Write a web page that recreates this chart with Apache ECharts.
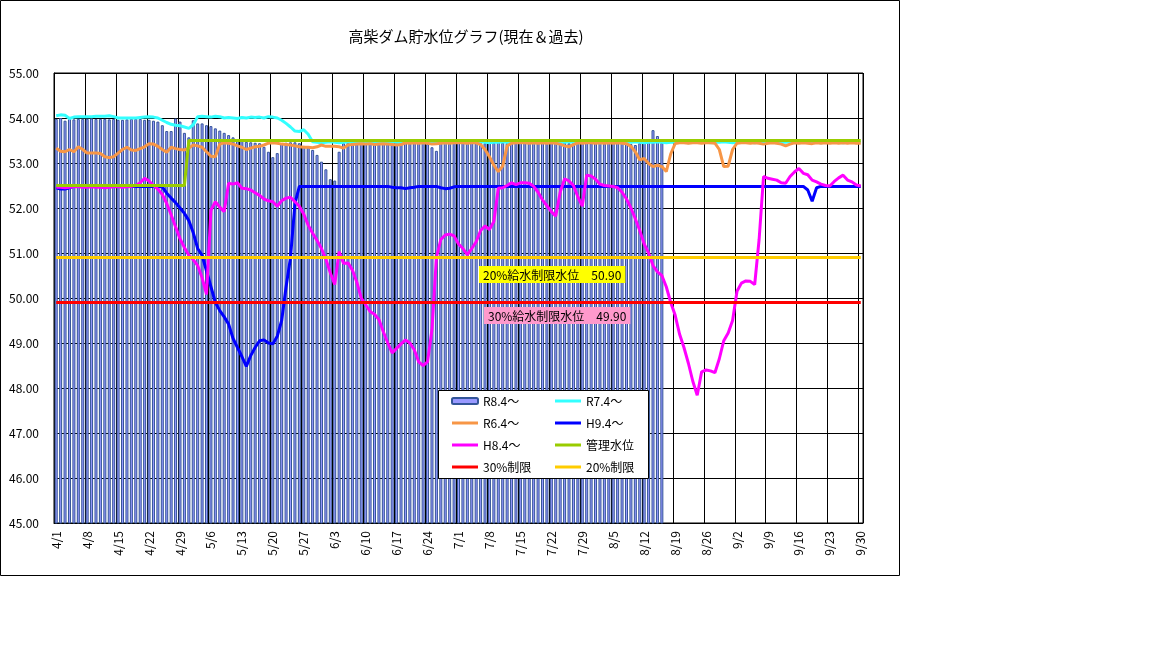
<!DOCTYPE html>
<html>
<head>
<meta charset="utf-8">
<title>高柴ダム貯水位グラフ</title>
<script src="https://cdn.jsdelivr.net/npm/echarts@6/dist/echarts.min.js"></script>
<style>
  html, body { margin: 0; padding: 0; background: #fff; }
  #chart { width: 1152px; height: 648px; }
</style>
</head>
<body>
<div id="chart"></div>
<script>
// 日付 4/1 ～ 9/30
var monthDays = [[4, 30], [5, 31], [6, 30], [7, 31], [8, 31], [9, 30]];
var days = [];
monthDays.forEach(function (m) {
  for (var d = 1; d <= m[1]; d++) days.push(m[0] + '/' + d);
});

// R8.4～ (棒グラフ, 8/16 まで)
var r8 = [
  53.98, 54.00, 53.94, 53.98, 53.97, 53.98, 53.98,
  53.98, 53.99, 53.98, 53.98, 53.98, 53.97, 53.98,
  53.96, 53.96, 53.97, 53.98, 53.98, 53.98, 53.96,
  53.96, 53.94, 53.92, 53.84, 53.71, 53.71, 53.99,
  53.92, 53.67, 53.57, 53.95, 53.88, 53.88, 53.84,
  53.82, 53.77, 53.72, 53.67, 53.62, 53.57, 53.52,
  53.49, 53.47, 53.46, 53.45, 53.44, 53.36, 53.25,
  53.13, 53.22, 53.43, 53.45, 53.46, 53.46, 53.44,
  53.38, 53.36, 53.29, 53.18, 53.03, 52.86, 52.64,
  52.61, 53.25, 53.44, 53.45, 53.46, 53.45, 53.44,
  53.46, 53.45, 53.45, 53.44, 53.46, 53.45, 53.44,
  53.45, 53.46, 53.45, 53.44, 53.45, 53.45, 53.44,
  53.42, 53.35, 53.27, 53.45, 53.45, 53.44, 53.46,
  53.45, 53.45, 53.44, 53.45, 53.46, 53.45, 53.44,
  53.45, 53.45, 53.46, 53.45, 53.44, 53.45, 53.45,
  53.46, 53.45, 53.44, 53.45, 53.46, 53.45, 53.45,
  53.44, 53.45, 53.46, 53.45, 53.44, 53.45, 53.45,
  53.46, 53.45, 53.44, 53.45, 53.45, 53.44, 53.45,
  53.46, 53.45, 53.44, 53.45, 53.42, 53.40, 53.44,
  53.45, 53.46, 53.73, 53.60, 53.45
];

// R7.4～
var r7 = [
  54.05, 54.07, 54.06, 53.99, 54.02, 54.03, 54.03,
  54.03, 54.03, 54.04, 54.04, 54.04, 54.05, 54.03,
  54.00, 54.00, 54.00, 54.00, 54.00, 54.01, 54.02,
  54.03, 54.02, 54.00, 53.95, 53.90, 53.86, 53.84,
  53.83, 53.80, 53.77, 53.85, 54.03, 54.04, 54.03,
  54.02, 54.04, 54.03, 54.00, 54.01, 54.00, 53.99,
  54.01, 54.00, 54.02, 54.01, 54.02, 54.00, 54.03,
  54.02, 54.00, 53.95, 53.88, 53.80, 53.71, 53.70,
  53.74, 53.64, 53.47, 53.46, 53.45, 53.46, 53.47,
  53.46, 53.45, 53.46, 53.47, 53.46, 53.45, 53.46,
  53.46, 53.47, 53.46, 53.45, 53.46, 53.46, 53.47,
  53.46, 53.45, 53.46, 53.46, 53.47, 53.46, 53.45,
  53.46, 53.46, 53.47, 53.46, 53.45, 53.46, 53.46,
  53.47, 53.46, 53.45, 53.46, 53.46, 53.47, 53.46,
  53.45, 53.46, 53.46, 53.47, 53.46, 53.45, 53.46,
  53.46, 53.47, 53.46, 53.45, 53.46, 53.46, 53.47,
  53.46, 53.45, 53.46, 53.46, 53.47, 53.46, 53.45,
  53.46, 53.46, 53.47, 53.46, 53.45, 53.46, 53.46,
  53.47, 53.46, 53.45, 53.46, 53.46, 53.47, 53.46,
  53.45, 53.46, 53.46, 53.47, 53.46, 53.45, 53.46,
  53.46, 53.47, 53.46, 53.45, 53.46, 53.46, 53.47,
  53.46, 53.45, 53.46, 53.46, 53.47, 53.46, 53.45,
  53.46, 53.46, 53.47, 53.46, 53.45, 53.46, 53.46,
  53.47, 53.46, 53.45, 53.46, 53.46, 53.47, 53.46,
  53.45, 53.46, 53.46, 53.47, 53.46, 53.45, 53.46,
  53.46, 53.47, 53.46, 53.45, 53.46, 53.46, 53.47,
  53.46
];

// R6.4～
var r6 = [
  53.33, 53.26, 53.25, 53.30, 53.25, 53.36, 53.30,
  53.22, 53.22, 53.22, 53.21, 53.14, 53.12, 53.14,
  53.22, 53.30, 53.35, 53.29, 53.28, 53.32, 53.36,
  53.43, 53.42, 53.37, 53.30, 53.24, 53.35, 53.32,
  53.30, 53.29, 53.33, 53.40, 53.38, 53.35, 53.25,
  53.15, 53.14, 53.42, 53.45, 53.44, 53.42, 53.38,
  53.35, 53.30, 53.33, 53.36, 53.37, 53.40, 53.44,
  53.45, 53.44, 53.42, 53.41, 53.40, 53.38, 53.36,
  53.35, 53.35, 53.34, 53.36, 53.40, 53.37, 53.37,
  53.37, 53.36, 53.33, 53.40, 53.41, 53.42, 53.43,
  53.42, 53.43, 53.41, 53.42, 53.43, 53.42, 53.41,
  53.40, 53.41, 53.45, 53.44, 53.45, 53.44, 53.45,
  53.44, 53.42, 53.43, 53.44, 53.45, 53.44, 53.45,
  53.45, 53.45, 53.44, 53.45, 53.45, 53.41, 53.30,
  53.14, 52.95, 52.81, 52.93, 53.38, 53.44, 53.45,
  53.45, 53.45, 53.44, 53.45, 53.44, 53.45, 53.44,
  53.45, 53.44, 53.42, 53.38, 53.36, 53.41, 53.45,
  53.44, 53.45, 53.45, 53.44, 53.45, 53.44, 53.45,
  53.44, 53.45, 53.44, 53.43, 53.37, 53.25, 53.07,
  53.10, 52.99, 52.92, 52.95, 52.92, 52.81, 53.20,
  53.43, 53.45, 53.45, 53.44, 53.45, 53.45, 53.44,
  53.45, 53.45, 53.44, 53.30, 52.92, 52.93, 53.30,
  53.44, 53.45, 53.45, 53.44, 53.45, 53.44, 53.42,
  53.44, 53.45, 53.44, 53.42, 53.38, 53.42, 53.45,
  53.44, 53.45, 53.44, 53.43, 53.45, 53.44, 53.45,
  53.44, 53.45, 53.44, 53.45, 53.44, 53.45, 53.44,
  53.44
];

// H9.4～
var h9 = [
  52.45, 52.42, 52.42, 52.45, 52.48, 52.48, 52.48,
  52.48, 52.48, 52.48, 52.48, 52.48, 52.48, 52.48,
  52.48, 52.48, 52.48, 52.48, 52.48, 52.48, 52.48,
  52.48, 52.48, 52.48, 52.47, 52.33, 52.22, 52.12,
  52.00, 51.88, 51.72, 51.45, 51.10, 50.95, 50.60,
  50.25, 49.90, 49.72, 49.58, 49.42, 49.10, 48.90,
  48.70, 48.48, 48.72, 48.90, 49.05, 49.07, 49.00,
  48.98, 49.15, 49.50, 50.25, 50.90, 52.10, 52.48,
  52.48, 52.48, 52.48, 52.48, 52.48, 52.48, 52.48,
  52.48, 52.48, 52.48, 52.48, 52.48, 52.48, 52.48,
  52.48, 52.48, 52.48, 52.48, 52.48, 52.48, 52.46,
  52.45, 52.45, 52.43, 52.45, 52.46, 52.48, 52.48,
  52.48, 52.48, 52.48, 52.45, 52.43, 52.44, 52.47,
  52.48, 52.48, 52.48, 52.48, 52.48, 52.48, 52.48,
  52.48, 52.48, 52.48, 52.48, 52.48, 52.48, 52.48,
  52.48, 52.48, 52.48, 52.48, 52.48, 52.48, 52.48,
  52.48, 52.48, 52.48, 52.48, 52.48, 52.48, 52.48,
  52.48, 52.48, 52.48, 52.48, 52.48, 52.48, 52.48,
  52.48, 52.48, 52.48, 52.48, 52.48, 52.48, 52.48,
  52.48, 52.48, 52.48, 52.48, 52.48, 52.48, 52.48,
  52.48, 52.48, 52.48, 52.48, 52.48, 52.48, 52.48,
  52.48, 52.48, 52.48, 52.48, 52.48, 52.48, 52.48,
  52.48, 52.48, 52.48, 52.48, 52.48, 52.48, 52.48,
  52.48, 52.48, 52.48, 52.48, 52.48, 52.48, 52.48,
  52.48, 52.48, 52.40, 52.15, 52.45, 52.48, 52.48,
  52.48, 52.48, 52.48, 52.48, 52.48, 52.48, 52.48,
  52.48
];

// H8.4～
var h8 = [
  52.46, 52.46, 52.45, 52.46, 52.47, 52.47, 52.46,
  52.46, 52.47, 52.46, 52.46, 52.45, 52.46, 52.47,
  52.47, 52.46, 52.47, 52.48, 52.50, 52.56, 52.66,
  52.60, 52.50, 52.42, 52.30, 52.10, 51.85, 51.58,
  51.32, 51.12, 50.95, 50.85, 50.72, 50.45, 50.08,
  51.95, 52.14, 52.02, 51.92, 52.55, 52.53, 52.56,
  52.44, 52.43, 52.40, 52.34, 52.28, 52.20, 52.16,
  52.14, 52.04, 52.16, 52.22, 52.24, 52.14, 52.04,
  51.86, 51.62, 51.44, 51.28, 51.10, 50.86, 50.56,
  50.30, 51.03, 50.77, 50.78, 50.62, 50.35, 50.00,
  49.85, 49.70, 49.64, 49.52, 49.25, 49.00, 48.78,
  48.88, 48.98, 49.07, 49.00, 48.85, 48.58, 48.50,
  48.58, 49.30, 50.90, 51.30, 51.40, 51.42, 51.38,
  51.20, 51.10, 50.96, 51.10, 51.25, 51.50, 51.60,
  51.52, 51.70, 52.44, 52.45, 52.50, 52.56, 52.52,
  52.56, 52.56, 52.55, 52.48, 52.35, 52.18, 52.05,
  51.92, 51.82, 52.35, 52.65, 52.60, 52.50, 52.25,
  52.04, 52.73, 52.71, 52.64, 52.53, 52.50, 52.49,
  52.48, 52.45, 52.35, 52.20, 52.00, 51.76, 51.50,
  51.20, 51.00, 50.72, 50.58, 50.50, 50.25, 49.90,
  49.62, 49.20, 48.90, 48.55, 48.15, 47.84, 48.36,
  48.40, 48.38, 48.34, 48.65, 49.05, 49.22, 49.50,
  50.15, 50.33, 50.38, 50.37, 50.30, 51.30, 52.70,
  52.66, 52.64, 52.62, 52.56, 52.55, 52.70, 52.80,
  52.88, 52.77, 52.74, 52.62, 52.58, 52.53, 52.50,
  52.49, 52.59, 52.67, 52.73, 52.62, 52.58, 52.51,
  52.49
];

// 管理水位 (値, 日数)
var mgmtRuns = [[52.5, 30], [53.5, 153]];
var limit30 = 49.90;
var limit20 = 50.90;

var mgmt = [];
mgmtRuns.forEach(function (r) { for (var k = 0; k < r[1]; k++) mgmt.push(r[0]); });
var lim30 = days.map(function () { return limit30; });
var lim20 = days.map(function () { return limit20; });

var FONT = '"Noto Sans CJK JP", "Noto Sans", sans-serif';
// 凡例の線アイコン
var LINE_ICON = 'path://M0,0 L26,0 L26,3 L0,3 Z';

var myChart = echarts.init(document.getElementById('chart'));

function lineSeries(name, data, color) {
  return {
    name: name,
    type: 'line',
    data: data,
    symbol: 'none',
    smooth: false,
    lineStyle: { color: color, width: 3 },
    itemStyle: { color: color },
    emphasis: { disabled: true }
  };
}

function legendBox(left, names) {
  return {
    orient: 'vertical',
    left: left,
    top: 395,
    padding: 0,
    itemGap: 10,
    itemWidth: 26,
    itemHeight: 6,
    selectedMode: false,
    textStyle: { fontSize: 12, color: '#000', fontFamily: FONT },
    data: names.map(function (n) {
      return n === 'R8.4～' ? { name: n } : { name: n, icon: LINE_ICON };
    })
  };
}

var option = {
  animation: false,
  backgroundColor: '#fff',
  textStyle: { fontFamily: FONT },
  title: {
    text: '高柴ダム貯水位グラフ(現在＆過去)',
    left: 461,
    top: 24,
    textAlign: 'center',
    textStyle: { fontSize: 15, fontWeight: 'normal', color: '#000', fontFamily: FONT }
  },
  legend: [
    legendBox(451, ['R8.4～', 'R6.4～', 'H8.4～', '30%制限']),
    legendBox(555, ['R7.4～', 'H9.4～', '管理水位', '20%制限'])
  ],
  grid: {
    left: 54,
    top: 73,
    width: 809,
    height: 450,
    show: true,
    borderColor: '#000',
    borderWidth: 1,
    backgroundColor: '#fff',
    containLabel: false,
    outerBoundsMode: 'none'
  },
  xAxis: {
    type: 'category',
    data: days,
    boundaryGap: true,
    axisLine: { lineStyle: { color: '#000' } },
    axisTick: { show: false, interval: 6 },
    axisLabel: {
      interval: 6,
      rotate: 90,
      margin: 8,
      fontSize: 12,
      color: '#000',
      fontFamily: FONT
    },
    splitLine: { show: true, interval: 6, lineStyle: { color: '#000', width: 1 } }
  },
  yAxis: {
    type: 'value',
    min: 45,
    max: 55,
    interval: 1,
    axisLine: { show: true, lineStyle: { color: '#000' } },
    axisTick: { show: false },
    axisLabel: {
      margin: 15,
      fontSize: 12,
      color: '#000',
      fontFamily: FONT,
      formatter: function (v) { return v.toFixed(2); }
    },
    splitLine: { show: true, lineStyle: { color: '#000', width: 1 } }
  },
  series: [
    {
      name: 'R8.4～',
      type: 'bar',
      data: r8,
      barWidth: 3,
      itemStyle: { color: '#9999ff', borderColor: '#335599', borderWidth: 1 },
      emphasis: { disabled: true }
    },
    lineSeries('R7.4～', r7, '#33ffff'),
    lineSeries('R6.4～', r6, '#f79646'),
    lineSeries('H9.4～', h9, '#0000ff'),
    lineSeries('H8.4～', h8, '#ff00ff'),
    lineSeries('管理水位', mgmt, '#99cc00'),
    lineSeries('30%制限', lim30, '#ff0000'),
    lineSeries('20%制限', lim20, '#ffcc00')
  ],
  graphic: [
    {
      type: 'rect',
      shape: { x: 0.5, y: 0.5, width: 899, height: 575 },
      style: { fill: 'none', stroke: '#000', lineWidth: 1 },
      silent: true,
      z: 10
    },
    {
      type: 'rect',
      shape: { x: 438.5, y: 390.5, width: 210, height: 88 },
      style: { fill: '#fff', stroke: '#000', lineWidth: 1 },
      silent: true,
      z: 3
    },
    {
      type: 'text',
      x: 479,
      y: 266,
      z: 5,
      style: {
        text: '20%給水制限水位　50.90',
        font: '12px ' + FONT,
        fill: '#000',
        backgroundColor: '#ffff00',
        padding: [3, 4, 2, 4]
      }
    },
    {
      type: 'text',
      x: 484,
      y: 307,
      z: 5,
      style: {
        text: '30%給水制限水位　49.90',
        font: '12px ' + FONT,
        fill: '#000',
        backgroundColor: '#ff99cc',
        padding: [3, 4, 2, 4]
      }
    }
  ]
};

myChart.setOption(option);
</script>
</body>
</html>
